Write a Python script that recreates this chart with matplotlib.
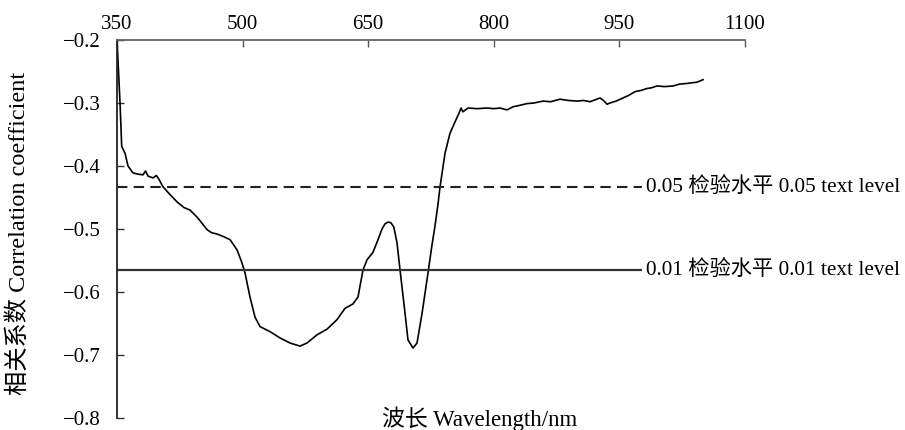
import numpy as np
import matplotlib.pyplot as plt

plt.rcParams['font.family'] = ['Liberation Serif', 'Noto Sans CJK SC']

# 波长 (nm) 与相关系数
wavelength = [350, 353.6, 355.6, 359.6, 363.1, 369.1, 375, 381.1, 384, 387, 393.0, 397, 400,
              404.9, 413, 421.7, 430, 437.2, 445.5, 451, 457.5, 463, 469.4, 477, 485.0,
              493.3, 499.3, 502.9, 508.8, 514.8, 520.8, 532.7, 544.7, 556.6, 568.6, 576.9,
              588.9, 600.8, 612.7, 622.3, 631.8, 637.8, 643.8, 648.6, 655.7, 661.7, 666.5,
              670, 673.6, 677, 680.6, 684.4, 688.0, 694.0, 697.5, 703.5, 708.3, 714.3,
              721.4, 726.2, 729.8, 733.4, 735.8, 741.7, 747.7, 753.7, 758.5, 760.9, 763.2,
              769.2, 780, 791.9, 800, 807.4, 815.8, 823.0, 830, 839.7, 848, 858.8, 868,
              879.1, 889, 899.4, 907, 914.9, 921, 926.9, 931, 935.2, 938.8, 946, 954.3,
              961, 968.7, 976, 983.0, 988, 994.9, 1004, 1014.0, 1022, 1030.7, 1036, 1042.7,
              1049.9]
corr = [-0.200, -0.300, -0.369, -0.380, -0.400, -0.411, -0.413, -0.414, -0.408, -0.416,
        -0.419, -0.415, -0.421, -0.433, -0.445, -0.457, -0.466, -0.470, -0.481, -0.490,
        -0.501, -0.506, -0.508, -0.512, -0.517, -0.533, -0.554, -0.570, -0.608, -0.640,
        -0.655, -0.663, -0.673, -0.681, -0.686, -0.681, -0.668, -0.659, -0.644, -0.626,
        -0.619, -0.608, -0.565, -0.549, -0.537, -0.517, -0.500, -0.492, -0.489, -0.490,
        -0.497, -0.522, -0.565, -0.634, -0.676, -0.689, -0.681, -0.634, -0.570, -0.525,
        -0.495, -0.460, -0.433, -0.380, -0.348, -0.330, -0.316, -0.308, -0.314, -0.308,
        -0.309, -0.308, -0.309, -0.308, -0.311, -0.306, -0.304, -0.301, -0.300, -0.297,
        -0.298, -0.294, -0.296, -0.297, -0.296, -0.298, -0.295, -0.292, -0.296, -0.302,
        -0.300, -0.297, -0.292, -0.288, -0.282, -0.280, -0.277, -0.276, -0.273, -0.274,
        -0.273, -0.270, -0.269, -0.268, -0.267, -0.263]

level_05 = -0.433
level_01 = -0.565
label_05 = '0.05 检验水平 0.05 text level'
label_01 = '0.01 检验水平 0.01 text level'

xticks = [350, 500, 650, 800, 950, 1100]
yticks = [-0.2, -0.3, -0.4, -0.5, -0.6, -0.7, -0.8]
ytick_labels = ['−0.2', '−0.3', '−0.4', '−0.5', '−0.6', '−0.7', '−0.8']

fig = plt.figure(figsize=(9.05, 4.3), dpi=100)
ax = fig.add_axes([0.1293, 0.028, 0.6939, 0.879])

ax.plot(wavelength, corr, color='black', lw=1.2)
ax.hlines(level_05, 350, 977, colors='#222222', linestyles=(0, (5, 3)), lw=1.5, clip_on=False)
ax.hlines(level_01, 350, 977, colors='#333333', lw=1.6, clip_on=False)
ax.text(982, level_05, label_05, va='center', ha='left', fontsize=15.3, clip_on=False)
ax.text(982, level_01, label_01, va='center', ha='left', fontsize=15.3, clip_on=False)

ax.set_xlim(350, 1100)
ax.set_ylim(-0.8, -0.2)
ax.set_xticks(xticks)
ax.set_yticks(yticks)
ax.set_yticklabels(ytick_labels)
ax.xaxis.tick_top()
ax.tick_params(axis='x', direction='in', length=5, width=1, color='#555555', labelsize=15, pad=4)
ax.tick_params(axis='y', direction='in', length=5, width=1, color='#333333', labelsize=15, pad=12)

for s in ['right', 'bottom']:
    ax.spines[s].set_visible(False)
ax.spines['top'].set_color('#666666')
ax.spines['top'].set_linewidth(1.3)
ax.spines['left'].set_color('#222222')
ax.spines['left'].set_linewidth(1.3)

fig.text(18 / 905, 1 - 233 / 430, '相关系数 Correlation coefficient', rotation=90,
         va='center', ha='center', fontsize=17.5)
fig.text(480 / 905, 1 - 419 / 430, '波长 Wavelength/nm', va='center', ha='center', fontsize=16.5)

fig.savefig('out.png', dpi=100)
